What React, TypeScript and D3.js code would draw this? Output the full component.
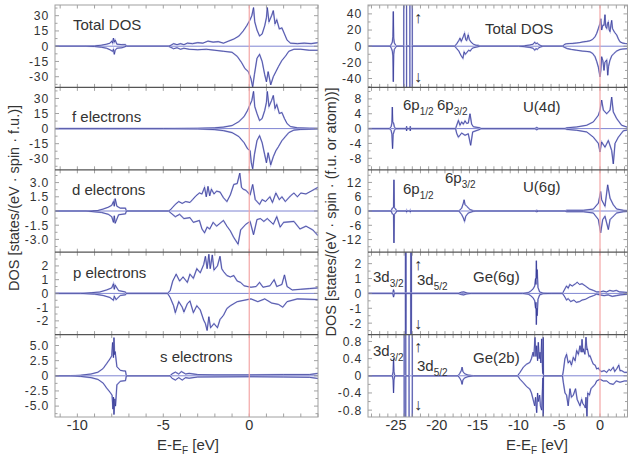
import React from 'react';
import * as d3 from 'd3';

type Pt = [number, number];

// ---- left column: partial DOS (energy eV, states) ----
const totalUpL: Pt[] = [[-11.3,0],[-9.5,0],[-9.0,0.3],[-8.6,1],[-8.3,2],[-8.1,3],[-8.0,5],[-7.95,3],[-7.9,8],[-7.85,4],[-7.8,6],[-7.7,2],[-7.4,1.5],[-7.2,1.5],[-7.15,0],[-4.7,0],[-4.55,1],[-4.4,2.5],[-4.2,1.5],[-4.0,2.5],[-3.8,1.5],[-3.6,3],[-3.3,2.5],[-3.0,3.5],[-2.7,3],[-2.4,5],[-2.1,4],[-1.8,4.5],[-1.5,3],[-1.2,5],[-0.9,7],[-0.6,10],[-0.35,15],[-0.15,20],[0.05,26],[0.15,30],[0.25,38],[0.32,24],[0.45,16],[0.6,10],[0.75,12],[0.9,20],[1.0,28],[1.05,38],[1.15,24],[1.3,30],[1.4,35],[1.5,22],[1.6,26],[1.75,17],[1.9,18],[2.05,12],[2.2,6],[2.4,3],[2.8,2.5],[3.2,3],[3.6,2.5],[4.0,3.5]];
const totalDownL: Pt[] = [[-11.3,0],[-9.5,0],[-9.0,-0.3],[-8.6,-1],[-8.3,-2],[-8.1,-3.5],[-7.95,-5],[-7.9,-3],[-7.85,-8],[-7.8,-4],[-7.7,-2],[-7.4,-1.5],[-7.15,0],[-4.7,0],[-4.55,-1.2],[-4.4,-2.5],[-4.2,-1.5],[-4.0,-3],[-3.8,-2],[-3.5,-3],[-3.0,-3.5],[-2.5,-3],[-2.0,-4],[-1.5,-5],[-1.0,-6],[-0.7,-10],[-0.45,-16],[-0.25,-22],[-0.05,-25],[0.1,-32],[0.2,-40],[0.3,-28],[0.45,-12],[0.6,-8],[0.75,-15],[0.9,-28],[1.0,-35],[1.1,-25],[1.25,-38],[1.4,-30],[1.55,-25],[1.7,-20],[1.9,-14],[2.1,-10],[2.3,-5],[2.6,-3],[3.0,-3],[3.5,-4],[4.0,-4]];
const fUp: Pt[] = [[-11.3,0],[-5,0],[-3,0.3],[-2,0.8],[-1.5,1.5],[-1.0,3],[-0.6,7],[-0.3,12],[-0.1,18],[0.05,24],[0.15,28],[0.25,37],[0.32,22],[0.45,15],[0.6,8],[0.75,10],[0.9,18],[1.0,26],[1.05,37],[1.15,22],[1.3,28],[1.4,33],[1.5,20],[1.6,24],[1.75,15],[1.9,16],[2.05,10],[2.2,5],[2.4,2],[2.8,0.8],[3.5,0.4],[4,0.3]];
const fDown: Pt[] = [[-11.3,0],[-5,0],[-3,-0.3],[-2,-1],[-1.5,-2],[-1.0,-4],[-0.6,-8],[-0.3,-14],[-0.1,-20],[0.05,-22],[0.12,-34],[0.2,-40],[0.3,-26],[0.45,-12],[0.6,-7],[0.75,-14],[0.9,-26],[1.0,-34],[1.1,-24],[1.25,-36],[1.4,-28],[1.55,-22],[1.7,-18],[1.9,-12],[2.1,-8],[2.3,-4],[2.6,-1.5],[3,-0.8],[4,-0.3]];
const dUp: Pt[] = [[-11.3,0],[-9.5,0],[-8.8,0.05],[-8.5,0.2],[-8.2,0.4],[-8.0,0.6],[-7.9,1.0],[-7.85,0.5],[-7.8,1.3],[-7.7,0.5],[-7.5,0.3],[-7.2,0.3],[-7.15,0],[-4.7,0],[-4.6,0.1],[-4.45,0.4],[-4.3,0.7],[-4.1,1.0],[-3.9,0.8],[-3.7,1.0],[-3.45,0.9],[-3.3,1.2],[-3.1,1.6],[-2.9,1.9],[-2.75,1.8],[-2.6,2.5],[-2.5,1.5],[-2.4,2.6],[-2.3,1.6],[-2.2,2.3],[-2.05,1.8],[-1.9,2.1],[-1.7,2.0],[-1.5,1.4],[-1.3,1.0],[-1.1,1.7],[-0.9,2.8],[-0.7,2.9],[-0.55,4.0],[-0.45,2.5],[-0.35,2.3],[-0.2,2.2],[0.05,1.7],[0.2,2.8],[0.35,1.2],[0.6,0.7],[0.75,1.2],[0.95,1.0],[1.2,1.5],[1.35,0.9],[1.55,1.9],[1.75,1.2],[1.9,1.5],[2.1,1.0],[2.4,1.6],[2.6,1.9],[2.8,1.5],[3.0,1.9],[3.3,1.8],[3.6,2.1],[3.8,2.3],[4.0,2.5]];
const dDown: Pt[] = [[-11.3,0],[-9.5,0],[-8.6,-0.15],[-8.2,-0.35],[-8.0,-0.6],[-7.9,-1.2],[-7.85,-0.5],[-7.8,-1.3],[-7.6,-0.4],[-7.2,-0.3],[-7.15,0],[-4.7,0],[-4.5,-0.3],[-4.3,-0.6],[-4.05,-0.35],[-3.8,-0.8],[-3.45,-0.7],[-3.25,-1.2],[-2.9,-1.0],[-2.75,-1.9],[-2.6,-2.3],[-2.45,-1.7],[-2.3,-1.9],[-2.1,-1.2],[-1.9,-1.6],[-1.5,-1.0],[-1.3,-1.6],[-1.1,-2.1],[-0.9,-2.8],[-0.65,-3.5],[-0.5,-2.0],[-0.2,-1.4],[0.05,-1.1],[0.25,-2.5],[0.45,-0.9],[0.65,-0.8],[0.85,-1.1],[1.05,-0.8],[1.4,-1.4],[1.6,-0.6],[1.8,-1.7],[2.0,-1.2],[2.6,-1.1],[2.95,-1.9],[3.3,-1.6],[3.7,-2.0],[4.0,-2.6]];
const pUp: Pt[] = [[-11.3,0],[-9.8,0],[-9.2,0.05],[-8.7,0.1],[-8.3,0.25],[-8.0,0.4],[-7.9,0.7],[-7.85,0.3],[-7.8,0.6],[-7.6,0.2],[-7.2,0.1],[-7.15,0],[-4.75,0],[-4.6,0.2],[-4.45,0.9],[-4.25,1.4],[-4.05,0.9],[-3.85,1.2],[-3.6,0.8],[-3.45,1.4],[-3.25,1.1],[-3.05,1.8],[-2.85,1.5],[-2.65,2.1],[-2.55,2.7],[-2.45,1.8],[-2.35,2.85],[-2.27,1.8],[-2.15,2.8],[-2.05,1.7],[-1.85,2.0],[-1.7,2.7],[-1.6,1.8],[-1.5,1.6],[-1.3,1.3],[-1.1,1.2],[-0.9,1.3],[-0.7,0.9],[-0.5,0.8],[-0.3,0.55],[0.1,0.45],[0.4,0.5],[0.6,0.8],[0.8,0.45],[1.2,0.55],[1.45,1.0],[1.6,0.5],[1.9,0.65],[2.05,1.35],[2.2,0.5],[2.5,0.25],[3.0,0.3],[3.5,0.35],[4.0,0.4]];
const pDown: Pt[] = [[-11.3,0],[-9.8,0],[-9.0,-0.05],[-8.5,-0.15],[-8.1,-0.3],[-7.9,-0.5],[-7.85,-0.2],[-7.75,-0.45],[-7.5,-0.15],[-7.2,-0.1],[-7.15,0],[-4.75,0],[-4.6,-0.3],[-4.4,-0.9],[-4.3,-1.4],[-4.1,-0.6],[-3.9,-1.0],[-3.8,-1.35],[-3.6,-0.75],[-3.45,-0.55],[-3.25,-1.4],[-3.05,-0.9],[-2.85,-1.2],[-2.65,-1.95],[-2.55,-2.2],[-2.45,-2.7],[-2.35,-1.7],[-2.25,-2.5],[-2.05,-2.2],[-1.85,-2.5],[-1.7,-1.9],[-1.5,-1.6],[-1.3,-1.1],[-1.1,-0.9],[-0.7,-0.6],[-0.3,-0.5],[0.1,-0.4],[0.5,-0.6],[0.9,-0.4],[1.3,-0.7],[1.7,-0.8],[1.95,-1.0],[2.2,-0.6],[2.8,-0.4],[4.0,-0.45]];
const sUp: Pt[] = [[-11.3,0],[-10.4,0],[-9.8,0.1],[-9.2,0.3],[-8.8,0.6],[-8.5,1.2],[-8.3,2.0],[-8.1,2.8],[-8.0,3.3],[-7.95,5.5],[-7.9,3.0],[-7.87,6.3],[-7.83,3.5],[-7.8,4.0],[-7.7,1.5],[-7.5,0.9],[-7.3,0.8],[-7.2,0.8],[-7.15,0],[-4.6,0],[-4.5,0.3],[-4.3,0.6],[-4.1,0.3],[-3.95,0.7],[-3.7,0.3],[-3.5,0.4],[-3.0,0.2],[-2,0.15],[0,0.15],[2,0.2],[3.5,0.2],[4.0,0.4]];
const sDown: Pt[] = [[-11.3,0],[-10.4,0],[-9.8,-0.1],[-9.2,-0.3],[-8.8,-0.6],[-8.5,-1.2],[-8.3,-2.0],[-8.1,-2.7],[-7.98,-3.2],[-7.93,-5.5],[-7.9,-3.5],[-7.87,-6.4],[-7.82,-3.8],[-7.78,-5.0],[-7.7,-1.5],[-7.5,-0.9],[-7.2,-0.8],[-7.15,0],[-4.6,0],[-4.5,-0.4],[-4.3,-0.7],[-4.1,-0.3],[-3.9,-0.7],[-3.7,-0.3],[-3.5,-0.4],[-3.0,-0.2],[0,-0.15],[2,-0.2],[3.5,-0.25],[4.0,-0.45]];

// ---- right column: site-resolved DOS ----
const totalUpR: Pt[] = [[-28.4,0],[-25.7,0],[-25.55,3],[-25.45,5],[-25.38,12],[-25.33,43],[-25.28,10],[-25.2,4],[-25.05,1.5],[-24.9,0],[-24.05,0],[-24.0,600],[-23.75,600],[-23.7,0],[-23.3,0],[-23.25,600],[-23.05,600],[-23.0,0],[-17.8,0],[-17.56,3],[-17.3,7],[-17.16,10],[-17.0,6],[-16.75,12],[-16.6,16],[-16.45,8],[-16.34,7],[-16.15,14],[-16.0,8],[-15.8,5],[-15.52,2.5],[-15.2,1.2],[-14.9,1.0],[-14.7,0],[-10.0,0],[-9.3,0.5],[-8.6,1.5],[-8.2,2.5],[-8.0,5],[-7.85,3],[-7.7,4],[-7.5,2],[-7.3,1],[-7.0,0],[-4.6,0],[-4.3,2.5],[-4.1,3],[-3.7,3.3],[-3.3,3.5],[-2.86,4],[-2.45,4.5],[-2.04,5.4],[-1.6,6],[-1.23,6.7],[-0.9,8.5],[-0.61,11.7],[-0.4,16],[-0.2,22],[0,28],[0.1,34],[0.2,20],[0.35,26],[0.49,26],[0.61,39],[0.7,24],[0.82,22],[0.92,28],[1.02,30],[1.13,20],[1.23,18],[1.33,26],[1.43,32],[1.53,22],[1.63,20],[1.8,17],[2.04,14],[2.25,9],[2.45,5.4],[2.8,3.8],[3.1,3.3],[3.43,3]];
const totalDownR: Pt[] = [[-28.4,0],[-25.7,0],[-25.55,-3],[-25.45,-6],[-25.38,-12],[-25.33,-44],[-25.28,-10],[-25.2,-4],[-25.05,-1.5],[-24.9,0],[-24.05,0],[-24.0,-600],[-23.75,-600],[-23.7,0],[-23.3,0],[-23.25,-600],[-23.05,-600],[-23.0,0],[-17.8,0],[-17.56,-3],[-17.3,-6],[-17.16,-9],[-17.0,-12],[-16.8,-15],[-16.65,-7],[-16.5,-10],[-16.34,-8],[-16.1,-5],[-15.9,-6],[-15.7,-3],[-15.52,-2],[-15.1,-1],[-14.7,0],[-10.0,0],[-9.3,-0.5],[-8.6,-1.5],[-8.2,-2.5],[-8.0,-5],[-7.85,-3],[-7.7,-4],[-7.5,-2],[-7.3,-1],[-7.0,0],[-4.6,0],[-4.3,-1.7],[-4.0,-3],[-3.5,-4],[-2.86,-5],[-2.2,-6],[-1.6,-6.5],[-1.23,-7],[-0.9,-9],[-0.61,-13],[-0.4,-19],[-0.2,-26],[0,-38],[0.1,-30],[0.2,-13],[0.35,-18],[0.49,-30],[0.6,-20],[0.82,-17],[0.95,-36],[1.05,-25],[1.2,-18],[1.43,-12],[1.7,-9],[2.04,-6],[2.45,-4],[2.8,-3.5],[3.43,-3]];
const u4dUp: Pt[] = [[-28.4,0],[-25.8,0],[-25.6,0.5],[-25.5,1.5],[-25.45,5.8],[-25.4,1.8],[-25.3,1.5],[-25.2,0.5],[-25.05,0],[-23.75,0],[-23.7,0.6],[-23.65,0],[-23.3,0],[-23.25,0.6],[-23.2,0],[-17.7,0],[-17.56,0.9],[-17.35,2.2],[-17.16,0.9],[-16.95,1.8],[-16.75,1.2],[-16.54,2.1],[-16.34,1.4],[-16.14,1.5],[-15.93,4.0],[-15.73,1.2],[-15.52,0.5],[-14.7,0.2],[-14.6,0],[-8.0,0],[-7.75,0.3],[-7.5,0],[-4.3,0],[-4.08,0.2],[-2.86,0.45],[-1.63,0.9],[-0.82,1.8],[-0.2,3.6],[0,5],[0.2,7.7],[0.41,5],[0.82,4],[1.23,5],[1.43,8.5],[1.63,4.5],[2.04,2.7],[2.65,0.9],[3.27,0.45],[3.43,0.4]];
const u4dDown: Pt[] = [[-28.4,0],[-25.8,0],[-25.6,-0.5],[-25.5,-1.5],[-25.42,-5.4],[-25.35,-1.6],[-25.2,-0.5],[-25.05,0],[-23.75,0],[-23.7,-0.6],[-23.65,0],[-23.3,0],[-23.25,-0.6],[-23.2,0],[-17.7,0],[-17.56,-1.3],[-17.35,-2.3],[-16.95,-1.2],[-16.54,-1.8],[-16.14,-1.4],[-15.85,-4.5],[-15.6,-0.9],[-14.7,-0.2],[-14.6,0],[-8.0,0],[-7.75,-0.3],[-7.5,0],[-4.3,0],[-4.08,-0.2],[-2.86,-0.45],[-1.63,-0.9],[-0.82,-2.3],[-0.2,-4],[0,-6.3],[0.2,-3.6],[0.61,-5],[1.02,-3.2],[1.43,-5.9],[1.63,-9.5],[1.84,-4],[2.25,-2.3],[2.86,-0.6],[3.43,-0.35]];
const u6gUp: Pt[] = [[-28.4,0],[-25.6,0],[-25.45,1.2],[-25.3,1.5],[-25.25,13.1],[-25.2,1.4],[-25.05,0.8],[-24.9,0],[-23.75,0],[-23.7,0.4],[-23.65,0],[-23.3,0],[-23.25,0.4],[-23.2,0],[-17.3,0],[-16.95,1.2],[-16.75,3.3],[-16.65,4.7],[-16.54,2.7],[-16.34,2.0],[-15.93,0.6],[-15.52,0.15],[-15.2,0],[-8.0,0],[-7.75,0.3],[-7.5,0],[-4.3,0],[-4.08,0.3],[-2.04,0.3],[-0.82,0.8],[-0.2,3.3],[0.08,8.2],[0.2,4.7],[0.41,3.3],[0.61,2.0],[0.94,11],[1.23,5.4],[1.63,2.6],[2.04,0.85],[2.86,0.3],[3.43,0.2]];
const u6gDown: Pt[] = [[-28.4,0],[-25.6,0],[-25.45,-1.2],[-25.3,-1.5],[-25.25,-13.4],[-25.2,-1.4],[-25.05,-0.8],[-24.9,0],[-23.75,0],[-23.7,-0.4],[-23.65,0],[-23.3,0],[-23.25,-0.4],[-23.2,0],[-17.3,0],[-16.95,-1.5],[-16.75,-2.9],[-16.6,-4.3],[-16.45,-2.2],[-16.14,-0.85],[-15.52,-0.15],[-15.2,0],[-8.0,0],[-7.75,-0.3],[-7.5,0],[-4.3,0],[-4.08,-0.3],[-2.04,-0.3],[-0.82,-0.85],[-0.2,-3.6],[0.08,-9.2],[0.33,-3.6],[0.61,-2.2],[1.02,-7.8],[1.23,-3.6],[1.63,-2.2],[2.04,-0.85],[2.86,-0.3],[3.43,-0.2]];
const ge6gUp: Pt[] = [[-28.4,0],[-25.4,0],[-25.3,0.25],[-25.2,0],[-23.85,0],[-23.8,20],[-23.76,0],[-23.2,0],[-23.15,20],[-23.1,0],[-17.4,0],[-17.0,0.08],[-16.7,0.1],[-16.3,0.03],[-15.8,0],[-9.5,0],[-8.8,0.05],[-8.5,0.15],[-8.2,0.3],[-8.0,0.5],[-7.9,1.0],[-7.85,0.6],[-7.8,2.2],[-7.75,1.0],[-7.7,1.6],[-7.6,0.4],[-7.4,0.1],[-7.0,0.02],[-6.0,0],[-4.6,0],[-4.3,0.3],[-4.1,0.5],[-3.9,0.35],[-3.7,0.6],[-3.4,0.5],[-3.0,0.65],[-2.8,0.75],[-2.5,0.6],[-2.2,0.65],[-1.8,0.5],[-1.3,0.3],[-0.8,0.2],[-0.4,0.1],[0,0.1],[0.4,0.15],[0.8,0.1],[1.2,0.2],[1.6,0.15],[2.0,0.2],[2.4,0.1],[3.0,0.08],[3.43,0.06]];
const ge6gDown: Pt[] = [[-28.4,0],[-25.4,0],[-25.3,-0.25],[-25.2,0],[-23.85,0],[-23.8,-20],[-23.76,0],[-23.2,0],[-23.15,-20],[-23.1,0],[-17.4,0],[-17.0,-0.08],[-16.7,-0.1],[-16.3,-0.03],[-15.8,0],[-9.5,0],[-8.8,-0.05],[-8.5,-0.15],[-8.2,-0.3],[-8.0,-0.5],[-7.9,-1.0],[-7.85,-0.6],[-7.8,-2.1],[-7.75,-1.0],[-7.7,-1.5],[-7.6,-0.4],[-7.4,-0.1],[-7.0,-0.02],[-6.0,0],[-4.6,0],[-4.3,-0.25],[-4.1,-0.45],[-3.9,-0.35],[-3.6,-0.55],[-3.2,-0.45],[-2.9,-0.6],[-2.5,-0.55],[-2.2,-0.45],[-1.8,-0.4],[-1.3,-0.25],[-0.8,-0.15],[-0.4,-0.05],[0,-0.1],[0.5,-0.15],[1.0,-0.1],[1.5,-0.2],[2.0,-0.15],[2.5,-0.1],[3.43,-0.05]];
const ge2bUp: Pt[] = [[-28.4,0],[-25.45,0],[-25.35,0.1],[-25.3,0.4],[-25.25,0.1],[-25.15,0],[-24.0,0],[-23.95,9],[-23.85,9],[-23.8,0],[-23.4,0],[-23.35,9],[-23.05,9],[-23.0,0],[-17.4,0],[-17.2,0.05],[-17.0,0.12],[-16.9,0.2],[-16.8,0.1],[-16.6,0.05],[-16.2,0.02],[-15.5,0],[-10.1,0],[-9.8,0.08],[-9.4,0.2],[-9.0,0.27],[-8.6,0.31],[-8.4,0.4],[-8.2,0.55],[-8.1,0.45],[-7.97,0.9],[-7.85,0.45],[-7.76,0.7],[-7.65,0.35],[-7.56,0.78],[-7.45,0.4],[-7.35,0.55],[-7.25,0.3],[-7.15,0.86],[-7.05,0.2],[-7.0,0.05],[-6.96,0.9],[-6.93,0],[-4.6,0],[-4.5,0.1],[-4.3,0.4],[-4.1,0.5],[-3.9,0.3],[-3.7,0.35],[-3.5,0.25],[-3.27,0.43],[-3.05,0.35],[-2.86,0.59],[-2.65,0.5],[-2.45,0.7],[-2.3,0.55],[-2.2,0.85],[-2.1,0.55],[-2.04,0.63],[-1.85,0.5],[-1.72,0.9],[-1.6,0.6],[-1.55,0.63],[-1.35,0.45],[-1.23,0.47],[-1.0,0.35],[-0.82,0.27],[-0.6,0.25],[-0.41,0.16],[-0.2,0.18],[0,0.12],[0.2,0.1],[0.5,0.12],[0.82,0.08],[1.1,0.15],[1.3,0.12],[1.63,0.2],[1.8,0.1],[2.04,0.16],[2.3,0.25],[2.45,0.12],[2.65,0.12],[3.0,0.08],[3.43,0.08]];
const ge2bDown: Pt[] = [[-28.4,0],[-25.45,0],[-25.35,-0.1],[-25.3,-0.4],[-25.25,-0.1],[-25.15,0],[-24.0,0],[-23.95,-9],[-23.85,-9],[-23.8,0],[-23.4,0],[-23.35,-9],[-23.05,-9],[-23.0,0],[-17.4,0],[-17.2,-0.05],[-17.0,-0.12],[-16.9,-0.2],[-16.8,-0.1],[-16.6,-0.05],[-16.2,-0.02],[-15.5,0],[-10.1,0],[-9.8,-0.08],[-9.4,-0.16],[-9.0,-0.25],[-8.6,-0.31],[-8.4,-0.4],[-8.2,-0.55],[-8.0,-0.7],[-7.9,-0.5],[-7.76,-0.86],[-7.65,-0.4],[-7.56,-0.6],[-7.4,-0.45],[-7.3,-0.7],[-7.15,-0.8],[-7.05,-0.3],[-7.0,-0.05],[-6.96,-0.95],[-6.93,0],[-4.6,0],[-4.5,-0.15],[-4.29,-0.4],[-4.1,-0.45],[-3.9,-0.7],[-3.68,-0.3],[-3.5,-0.5],[-3.27,-0.45],[-3.0,-0.3],[-2.8,-0.55],[-2.45,-0.7],[-2.25,-0.55],[-2.1,-0.65],[-1.9,-0.7],[-1.8,-0.75],[-1.72,-0.5],[-1.6,-0.95],[-1.5,-0.4],[-1.3,-0.45],[-1.1,-0.3],[-0.82,-0.24],[-0.6,-0.2],[-0.41,-0.12],[0,-0.08],[0.4,-0.12],[0.82,-0.12],[1.2,-0.18],[1.63,-0.2],[2.0,-0.12],[2.45,-0.15],[3.0,-0.12],[3.43,-0.12]];

// tick values / labels
const xTicksL = [-10, -5, 0];
const xTicksR = [-25, -20, -15, -10, -5, 0];
const yTicksTotalL = ['30', '15', '0', '-15', '-30'];
const yTicksF = ['30', '15', '0', '-15', '-30'];
const yTicksD = ['3.0', '1.5', '0', '-1.5', '-3.0'];
const yTicksP = ['2', '1', '0', '-1', '-2'];
const yTicksS = ['5.0', '2.5', '0', '-2.5', '-5.0'];
const yTicksTotalR = ['40', '20', '0', '-20', '-40'];
const yTicksU4d = ['8', '4', '0', '-4', '-8'];
const yTicksU6g = ['12', '6', '0', '-6', '-12'];
const yTicksGe6g = ['2', '1', '0', '-1', '-2'];
const yTicksGe2b = ['0.8', '0.4', '0', '-0.4', '-0.8'];

const FONT = '"Liberation Sans", Arial, sans-serif';
const TOP = 5;
const ROW_H = 82.4;

type PanelDef = {
  up: Pt[]; down: Pt[]; lim: number; ticks: string[];
  title: string; tx: number; ty: number;
};

const leftPanels: PanelDef[] = [
  { up: totalUpL, down: totalDownL, lim: 40.5, ticks: yTicksTotalL, title: 'Total DOS', tx: 73, ty: 30 },
  { up: fUp, down: fDown, lim: 41, ticks: yTicksF, title: 'f electrons', tx: 72, ty: 122 },
  { up: dUp, down: dDown, lim: 4.35, ticks: yTicksD, title: 'd electrons', tx: 72, ty: 195 },
  { up: pUp, down: pDown, lim: 3.0, ticks: yTicksP, title: 'p electrons', tx: 73, ty: 278 },
  { up: sUp, down: sDown, lim: 6.8, ticks: yTicksS, title: 's electrons', tx: 160, ty: 362 },
];
const rightPanels: PanelDef[] = [
  { up: totalUpR, down: totalDownR, lim: 51, ticks: yTicksTotalR, title: 'Total DOS', tx: 485, ty: 34 },
  { up: u4dUp, down: u4dDown, lim: 11.1, ticks: yTicksU4d, title: 'U(4d)', tx: 523, ty: 112 },
  { up: u6gUp, down: u6gDown, lim: 17.3, ticks: yTicksU6g, title: 'U(6g)', tx: 523, ty: 192 },
  { up: ge6gUp, down: ge6gDown, lim: 2.77, ticks: yTicksGe6g, title: 'Ge(6g)', tx: 473, ty: 282 },
  { up: ge2bUp, down: ge2bDown, lim: 0.96, ticks: yTicksGe2b, title: 'Ge(2b)', tx: 473, ty: 363 },
];

function Column({ id, panels, x, xTicks, x0, x1 }: {
  id: string; panels: PanelDef[]; x: d3.ScaleLinear<number, number>; xTicks: number[]; x0: number; x1: number;
}) {
  const [d0, d1] = x.domain();
  const minorX = d3.range(Math.ceil(d0), Math.floor(d1) + 1);
  const bottom = TOP + ROW_H * panels.length;
  return (
    <g>
      {panels.map((p, i) => {
        const top = TOP + ROW_H * i;
        const y = d3.scaleLinear().domain([-p.lim, p.lim]).range([top + ROW_H, top]);
        const line = d3.line<Pt>().x(d => x(d[0])).y(d => y(d[1]));
        const vals = p.ticks.map(Number);
        const step = Math.abs(vals[0] - vals[1]) / 2;
        const minorY = d3.range(-Math.floor(p.lim / step) * step, p.lim, step);
        const cid = `${id}-clip-${i}`;
        return (
          <g key={i}>
            <clipPath id={cid}><rect x={x0} y={top} width={x1 - x0} height={ROW_H} /></clipPath>
            <g clipPath={`url(#${cid})`}>
              <line x1={x0} x2={x1} y1={y(0)} y2={y(0)} stroke="#7e84d2" strokeWidth={1} />
              {[p.up, p.down].map((s, k) => (
                <g key={k}>
                  <path d={line(s) || ''} fill="none" stroke="#b3b6e6" strokeWidth={1.6} />
                  <path d={line(s) || ''} fill="none" stroke="#2c318f" strokeWidth={0.7} />
                </g>
              ))}
            </g>
            {minorY.map((v, k) => {
              const major = vals.some(t => Math.abs(t - v) < 1e-6);
              const L = major ? 4 : 2.5;
              return (
                <g key={k} stroke="#8a8a8a" strokeWidth={0.8}>
                  <line x1={x0} x2={x0 + L} y1={y(v)} y2={y(v)} />
                  <line x1={x1 - L} x2={x1} y1={y(v)} y2={y(v)} />
                </g>
              );
            })}
            {minorX.map((v, k) => (
              <g key={k} stroke="#8a8a8a" strokeWidth={0.8}>
                <line x1={x(v)} x2={x(v)} y1={top} y2={top + 3.5} />
                <line x1={x(v)} x2={x(v)} y1={top + ROW_H - 3.5} y2={top + ROW_H} />
              </g>
            ))}
            {p.ticks.map((t, k) => (
              <text key={k} x={x0 - 6} y={y(vals[k]) + 4.4} textAnchor="end" fontSize={12.2} letterSpacing={0.8} fill="#333" fontFamily={FONT}>{t}</text>
            ))}
            <text x={p.tx} y={p.ty} fontSize={15} fill="#333" fontFamily={FONT}>{p.title}</text>
          </g>
        );
      })}
      <line x1={x(0)} x2={x(0)} y1={TOP} y2={bottom} stroke="#f4a6a6" strokeWidth={1.2} />
      <rect x={x0} y={TOP} width={x1 - x0} height={bottom - TOP} fill="none" stroke="#a0a0a0" strokeWidth={1} />
      {panels.slice(1).map((_, i) => (
        <line key={i} x1={x0} x2={x1} y1={TOP + ROW_H * (i + 1)} y2={TOP + ROW_H * (i + 1)} stroke="#555" strokeWidth={1.2} />
      ))}
      {xTicks.map(t => (
        <text key={t} x={x(t)} y={430} textAnchor="middle" fontSize={14.5} fill="#333" fontFamily={FONT}>{t}</text>
      ))}
    </g>
  );
}

export default function App() {
  const xL = d3.scaleLinear().domain([-11.3, 4.0]).range([55, 318]);
  const xR = d3.scaleLinear().domain([-28.43, 3.43]).range([368, 628]);
  const txt = { fontFamily: FONT, fill: '#333' } as const;
  const sub = (s: string, dy = 5) => <tspan dy={dy} fontSize={10}>{s}</tspan>;
  return (
    <svg width={628} height={457} style={{ position: 'absolute', left: 0, top: 0, background: '#fff' }}>
      <rect width={628} height={457} fill="#fff" />
      <Column id="L" panels={leftPanels} x={xL} xTicks={xTicksL} x0={55} x1={318} />
      <Column id="R" panels={rightPanels} x={xR} xTicks={xTicksR} x0={368} x1={627.5} />

      {/* axis titles */}
      <text transform="translate(19,198) rotate(-90)" textAnchor="middle" fontSize={14.5} {...txt}>DOS [states/(eV · spin · f.u.)]</text>
      <text transform="translate(336,212) rotate(-90)" textAnchor="middle" fontSize={14.5} {...txt}>DOS [states/(eV · spin · (f.u. or atom))]</text>
      <text x={157} y={450} fontSize={15} {...txt}>E-E{sub('F', 4)}<tspan dy={-4}> [eV]</tspan></text>
      <text x={506} y={450} fontSize={15} {...txt}>E-E{sub('F', 4)}<tspan dy={-4}> [eV]</tspan></text>

      {/* level annotations */}
      <text x={414} y={23} fontSize={16} {...txt}>↑</text>
      <text x={414} y={82} fontSize={16} {...txt}>↓</text>
      <text x={403} y={110} fontSize={15} {...txt}>6p{sub('1/2')}</text>
      <text x={437} y={110} fontSize={15} {...txt}>6p{sub('3/2')}</text>
      <text x={403} y={194} fontSize={15} {...txt}>6p{sub('1/2')}</text>
      <text x={445} y={183} fontSize={15} {...txt}>6p{sub('3/2')}</text>
      <text x={373} y={282} fontSize={15} {...txt}>3d{sub('3/2')}</text>
      <text x={417} y={285} fontSize={15} {...txt}>3d{sub('5/2')}</text>
      <text x={414} y={270} fontSize={16} {...txt}>↑</text>
      <text x={414} y={329} fontSize={16} {...txt}>↓</text>
      <text x={373} y={356} fontSize={15} {...txt}>3d{sub('3/2')}</text>
      <text x={417} y={371} fontSize={15} {...txt}>3d{sub('5/2')}</text>
      <text x={414} y={352} fontSize={16} {...txt}>↑</text>
      <text x={414} y={410} fontSize={16} {...txt}>↓</text>
    </svg>
  );
}
